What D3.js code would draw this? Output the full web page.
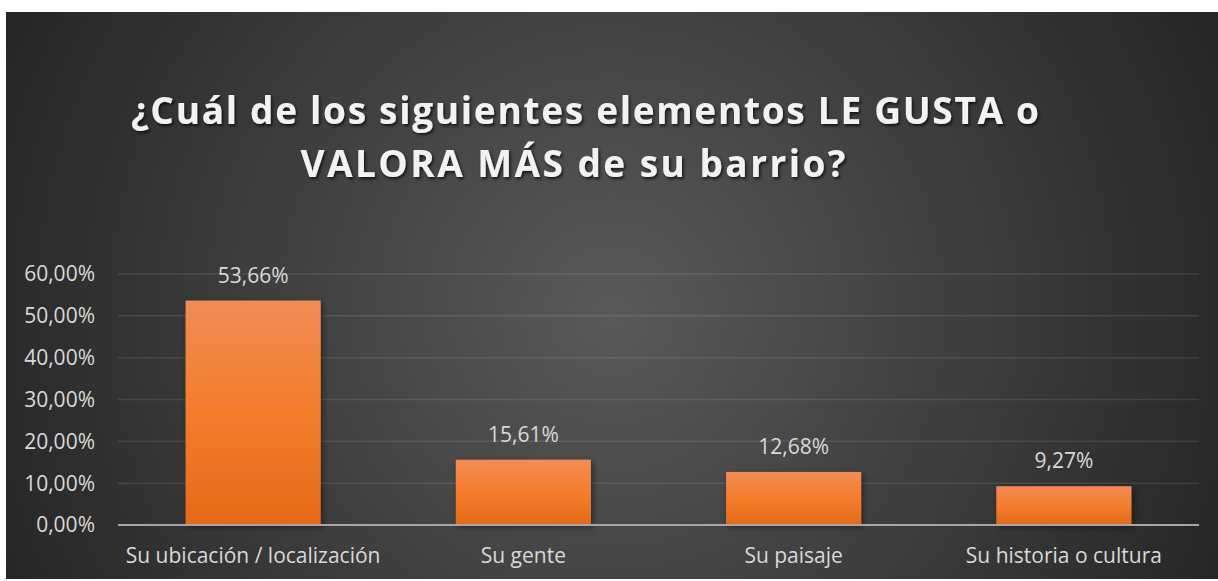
<!DOCTYPE html>
<html lang="es">
  <head>
    <meta charset="UTF-8" />
    <title>¿Cuál de los siguientes elementos LE GUSTA o VALORA MÁS de su barrio?</title>
    <script src="https://d3js.org/d3.v7.min.js"></script>
    <style>
      html,
      body {
        margin: 0;
        padding: 0;
        background-color: #ffffff;
        font-family: "Open Sans", sans-serif;
      }
    </style>
  </head>
  <body>
    <svg id="chart"></svg>
    <script>
      // Data
      const categories = [
        "Su ubicación / localización",
        "Su gente",
        "Su paisaje",
        "Su historia o cultura",
      ];
      const values = [0.5366, 0.1561, 0.1268, 0.0927];
      const yTicks = [0, 0.1, 0.2, 0.3, 0.4, 0.5, 0.6];
      const titleLines = [
        "¿Cuál de los siguientes elementos LE GUSTA o",
        "VALORA MÁS de su barrio?",
      ];

      const W = 1218;
      const H = 581;
      const plot = { left: 118, right: 1199, top: 274, bottom: 525 };

      const svg = d3.select("#chart").attr("width", W).attr("height", H);
      const defs = svg.append("defs");

      // Background radial gradient
      const bg = defs
        .append("radialGradient")
        .attr("id", "bg")
        .attr("gradientUnits", "userSpaceOnUse")
        .attr("cx", 612)
        .attr("cy", 310)
        .attr("r", 660);
      bg.append("stop").attr("offset", 0).attr("stop-color", "#595959");
      bg.append("stop").attr("offset", 1).attr("stop-color", "#262626");

      // Bar gradient
      const bar = defs
        .append("linearGradient")
        .attr("id", "bar")
        .attr("x1", 0)
        .attr("y1", 0)
        .attr("x2", 0)
        .attr("y2", 1);
      bar.append("stop").attr("offset", 0).attr("stop-color", "#f18c55");
      bar.append("stop").attr("offset", 0.5).attr("stop-color", "#f47d2c");
      bar.append("stop").attr("offset", 1).attr("stop-color", "#e46a19");

      // Shadows
      defs
        .append("filter")
        .attr("id", "titleShadow")
        .attr("x", "-10%")
        .attr("y", "-30%")
        .attr("width", "120%")
        .attr("height", "160%")
        .append("feDropShadow")
        .attr("dx", 1.5)
        .attr("dy", 2)
        .attr("stdDeviation", 1.5)
        .attr("flood-color", "#000")
        .attr("flood-opacity", 0.7);
      defs
        .append("filter")
        .attr("id", "barShadow")
        .attr("x", "-20%")
        .attr("y", "-20%")
        .attr("width", "140%")
        .attr("height", "140%")
        .append("feDropShadow")
        .attr("dx", 2)
        .attr("dy", 2)
        .attr("stdDeviation", 3)
        .attr("flood-color", "#000")
        .attr("flood-opacity", 0.45);

      svg
        .append("rect")
        .attr("x", 6)
        .attr("y", 12)
        .attr("width", W - 6)
        .attr("height", 567)
        .attr("fill", "url(#bg)");

      // Title
      const titleX = [585, 573];
      const titleY = [124, 177];
      const titleW = [908, 545];
      svg
        .selectAll(".title")
        .data(titleLines)
        .enter()
        .append("text")
        .attr("class", "title")
        .attr("x", (d, i) => titleX[i])
        .attr("y", (d, i) => titleY[i])
        .attr("text-anchor", "middle")
        .attr("font-size", "37px")
        .attr("font-weight", "bold")
        .attr("fill", "#f2f2f2")
        .attr("textLength", (d, i) => titleW[i])
        .attr("lengthAdjust", "spacing")
        .attr("filter", "url(#titleShadow)")
        .text((d) => d);

      // Scales
      const x = d3
        .scaleBand()
        .domain(categories)
        .range([plot.left, plot.right])
        .paddingInner(0.5)
        .paddingOuter(0.25);
      const y = d3
        .scaleLinear()
        .domain([0, 0.6])
        .range([plot.bottom, plot.top]);

      const fmt = (v) => d3.format(".2f")(v * 100).replace(".", ",") + "%";

      // Gridlines
      svg
        .selectAll(".grid")
        .data(yTicks.slice(1))
        .enter()
        .append("line")
        .attr("x1", plot.left)
        .attr("x2", plot.right)
        .attr("y1", (d) => y(d))
        .attr("y2", (d) => y(d))
        .attr("stroke", "#ffffff")
        .attr("stroke-opacity", 0.1)
        .attr("stroke-width", 1.5);

      // Y axis labels
      svg
        .selectAll(".ylab")
        .data(yTicks)
        .enter()
        .append("text")
        .attr("x", 95)
        .attr("y", (d) => y(d))
        .attr("dy", "0.35em")
        .attr("text-anchor", "end")
        .attr("font-size", "21px")
        .attr("fill", "#d9d9d9")
        .text((d) => fmt(d));

      // Bars
      svg
        .selectAll(".bar")
        .data(values)
        .enter()
        .append("rect")
        .attr("x", (d, i) => x(categories[i]))
        .attr("y", (d) => y(d))
        .attr("width", x.bandwidth())
        .attr("height", (d) => y(0) - y(d))
        .attr("fill", "url(#bar)")
        .attr("filter", "url(#barShadow)");

      // Baseline
      svg
        .append("line")
        .attr("x1", plot.left)
        .attr("x2", plot.right)
        .attr("y1", y(0))
        .attr("y2", y(0))
        .attr("stroke", "#a6a6a6")
        .attr("stroke-width", 2);

      // Data labels
      svg
        .selectAll(".dlab")
        .data(values)
        .enter()
        .append("text")
        .attr("x", (d, i) => x(categories[i]) + x.bandwidth() / 2)
        .attr("y", (d) => y(d) - 18)
        .attr("text-anchor", "middle")
        .attr("font-size", "21px")
        .attr("fill", "#d9d9d9")
        .text((d) => fmt(d));

      // Category labels
      svg
        .selectAll(".xlab")
        .data(categories)
        .enter()
        .append("text")
        .attr("x", (d) => x(d) + x.bandwidth() / 2)
        .attr("y", 563)
        .attr("text-anchor", "middle")
        .attr("font-size", "21px")
        .attr("fill", "#d9d9d9")
        .text((d) => d);
    </script>
  </body>
</html>
